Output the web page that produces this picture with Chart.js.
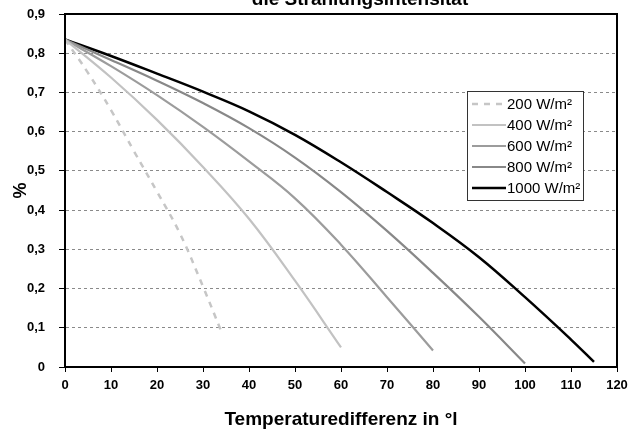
<!DOCTYPE html>
<html>
<head>
<meta charset="utf-8">
<script src="https://cdn.jsdelivr.net/npm/chart.js@4/dist/chart.umd.min.js"></script>
<style>
  html, body { margin: 0; padding: 0; background: #fff; }
  #wrap { width: 635px; height: 434px; }
</style>
</head>
<body>
<div id="wrap"><canvas id="myChart" width="635" height="434"></canvas></div>
<script>
// Werte
const temps200 = [0, 5, 10, 15, 20, 25, 30, 34];
const eta200 = [0.835, 0.75, 0.655, 0.55, 0.447, 0.34, 0.205, 0.09];
const temps400 = [0, 10, 20, 30, 40, 50, 60];
const eta400 = [0.835, 0.738, 0.63, 0.51, 0.378, 0.22, 0.05];
const temps600 = [0, 10, 20, 30, 40, 50, 60, 70, 80];
const eta600 = [0.835, 0.767, 0.693, 0.612, 0.524, 0.43, 0.312, 0.178, 0.042];
const temps800 = [0, 10, 20, 30, 40, 50, 60, 70, 80, 90, 100];
const eta800 = [0.835, 0.783, 0.73, 0.673, 0.609, 0.534, 0.446, 0.347, 0.24, 0.128, 0.009];
const temps1000 = [0, 10, 20, 30, 40, 50, 60, 70, 80, 90, 100, 110, 115];
const eta1000 = [0.835, 0.793, 0.748, 0.702, 0.652, 0.592, 0.522, 0.446, 0.367, 0.28, 0.178, 0.07, 0.013];

const seriesLabels = ['200 W/m²', '400 W/m²', '600 W/m²', '800 W/m²', '1000 W/m²'];
const yTickLabels = ['0', '0,1', '0,2', '0,3', '0,4', '0,5', '0,6', '0,7', '0,8', '0,9'];
const xTickLabels = ['0', '10', '20', '30', '40', '50', '60', '70', '80', '90', '100', '110', '120'];

const titleText = 'die Strahlungsintensität';
const xTitle = 'Temperaturedifferenz in °l';
const yTitle = '%';

document.addEventListener('DOMContentLoaded', () => {
  createLineChart();
});

function toPoints(xs, ys) {
  return xs.map((x, i) => ({ x: x, y: ys[i] }));
}

// Rahmen um die Zeichenfläche + Titel (oben abgeschnitten)
const framePlugin = {
  id: 'frame',
  afterDatasetsDraw(chart) {
    const { ctx, chartArea } = chart;
    ctx.save();
    ctx.strokeStyle = '#000';
    ctx.lineWidth = 2;
    ctx.strokeRect(chartArea.left, chartArea.top, chartArea.right - chartArea.left, chartArea.bottom - chartArea.top);
    ctx.restore();
  },
  afterDraw(chart) {
    const { ctx, chartArea } = chart;
    ctx.save();
    ctx.font = 'bold 19px "Liberation Sans", Arial, sans-serif';
    ctx.fillStyle = '#000';
    ctx.textAlign = 'center';
    ctx.textBaseline = 'alphabetic';
    ctx.fillText(titleText, (chartArea.left + chartArea.right) / 2 + 19, chartArea.top - 9);
    ctx.restore();
  }
};

// Legende im Diagramm
const legendPlugin = {
  id: 'boxLegend',
  afterDraw(chart) {
    const { ctx, chartArea } = chart;
    const left = chartArea.right - 150;
    const top = chartArea.top + 77;
    const w = 116, h = 109;
    ctx.save();
    ctx.fillStyle = '#fff';
    ctx.fillRect(left, top, w, h);
    ctx.strokeStyle = '#333';
    ctx.lineWidth = 1;
    ctx.strokeRect(left + 0.5, top + 0.5, w, h);
    ctx.font = '15px "Liberation Sans", Arial, sans-serif';
    ctx.textBaseline = 'middle';
    chart.data.datasets.forEach((ds, i) => {
      const y = top + 13 + i * 21;
      ctx.strokeStyle = ds.borderColor;
      ctx.lineWidth = ds.borderWidth;
      ctx.setLineDash(ds.borderDash || []);
      ctx.beginPath();
      ctx.moveTo(left + 5, y);
      ctx.lineTo(left + 39, y);
      ctx.stroke();
      ctx.setLineDash([]);
      ctx.fillStyle = '#000';
      ctx.fillText(ds.label, left + 40, y + 1);
    });
    ctx.restore();
  }
};

function createLineChart() {
  const ctx = document.getElementById('myChart').getContext('2d');

  const common = { pointRadius: 0, fill: false, tension: 0.4 };

  new Chart(ctx, {
    type: 'line',
    data: {
      datasets: [
        Object.assign({ label: seriesLabels[0], data: toPoints(temps200, eta200), borderColor: '#c6c6c6', borderWidth: 2.5, borderDash: [6, 6] }, common),
        Object.assign({ label: seriesLabels[1], data: toPoints(temps400, eta400), borderColor: '#c2c2c2', borderWidth: 2.2 }, common),
        Object.assign({ label: seriesLabels[2], data: toPoints(temps600, eta600), borderColor: '#9c9c9c', borderWidth: 2.2 }, common),
        Object.assign({ label: seriesLabels[3], data: toPoints(temps800, eta800), borderColor: '#888888', borderWidth: 2.2 }, common),
        Object.assign({ label: seriesLabels[4], data: toPoints(temps1000, eta1000), borderColor: '#000000', borderWidth: 2.5 }, common)
      ]
    },
    options: {
      responsive: false,
      animation: false,
      layout: { padding: { top: 14, right: 18, left: 0, bottom: 0 } },
      plugins: {
        legend: { display: false },
        tooltip: { enabled: false }
      },
      scales: {
        x: {
          type: 'linear',
          min: 0,
          max: 120,
          afterFit: (scale) => { scale.height = 67; scale.paddingLeft = 0; scale.paddingRight = 0; },
          ticks: {
            stepSize: 10,
            color: '#000',
            padding: 6,
            maxRotation: 0,
            font: { family: '"Liberation Sans", Arial, sans-serif', size: 13, weight: 'bold' },
            callback: (value, index) => xTickLabels[index]
          },
          grid: { drawOnChartArea: false, drawTicks: true, tickLength: 5, tickColor: '#000', tickWidth: 1 },
          border: { display: true, color: '#000', width: 2 },
          title: {
            display: true,
            text: xTitle,
            color: '#000',
            padding: { top: 0, bottom: 3 },
            font: { family: '"Liberation Sans", Arial, sans-serif', size: 19, weight: 'bold' }
          }
        },
        y: {
          min: 0,
          max: 0.9,
          afterFit: (scale) => { scale.width = 65; scale.paddingTop = 0; scale.paddingBottom = 0; },
          ticks: {
            stepSize: 0.1,
            color: '#000',
            padding: 14,
            font: { family: '"Liberation Sans", Arial, sans-serif', size: 13, weight: 'bold' },
            callback: (value, index) => yTickLabels[index]
          },
          grid: { color: '#8a8a8a', lineWidth: 1, drawTicks: true, tickLength: 6, tickColor: '#000', tickWidth: 1, tickBorderDash: [] },
          border: { display: true, color: '#000', width: 2, dash: [3, 3] },
          title: {
            display: true,
            text: yTitle,
            color: '#000',
            padding: { top: 10, bottom: 0 },
            font: { family: '"Liberation Sans", Arial, sans-serif', size: 18, weight: 'bold' }
          }
        }
      }
    },
    plugins: [framePlugin, legendPlugin]
  });
}
</script>
</body>
</html>
